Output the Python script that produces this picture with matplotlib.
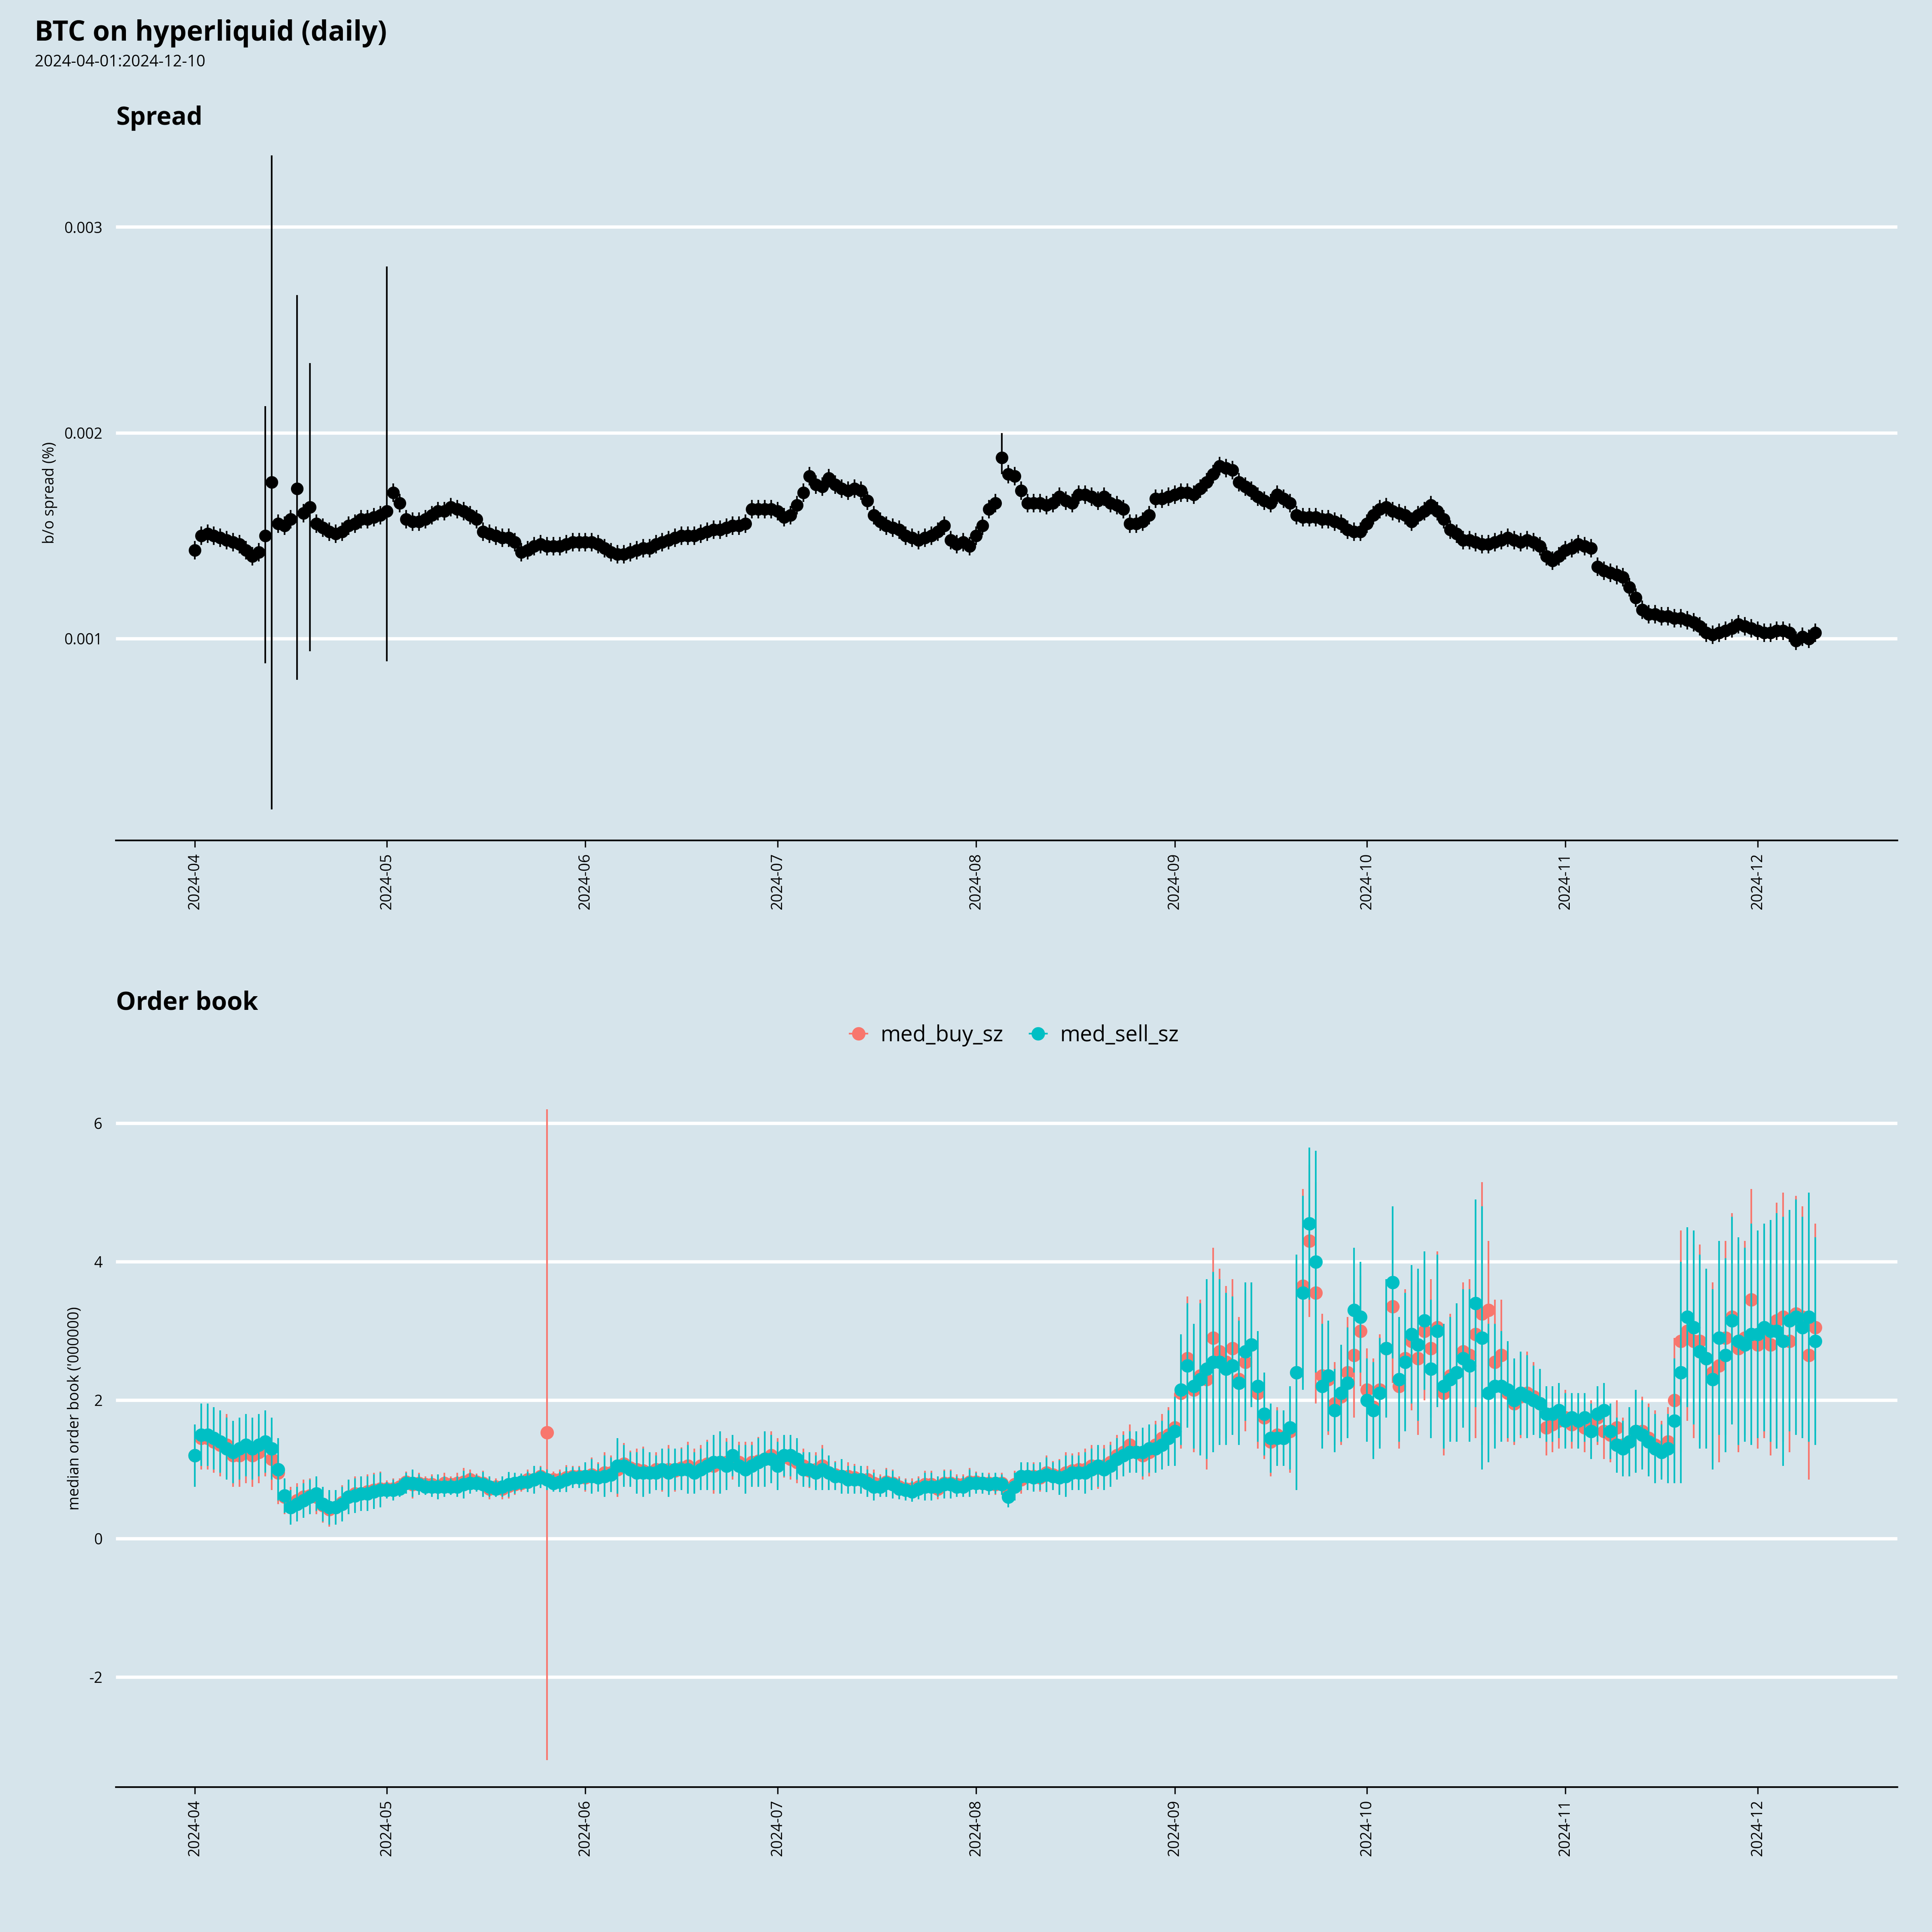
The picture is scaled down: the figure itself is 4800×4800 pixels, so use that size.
import numpy as np
import pandas as pd
import matplotlib
matplotlib.use("Agg")
import matplotlib.pyplot as plt
import matplotlib.dates as mdates
from matplotlib.lines import Line2D

plt.rcParams['font.family'] = ['Open Sans', 'DejaVu Sans']

BG = '#d6e4eb'
RED = '#f8766d'
TEAL = '#00bfc4'

dates = pd.date_range('2024-04-01', '2024-12-10', freq='D')

# b/o spread in units of 1e-3
spread = [
    # Apr
    1.43, 1.50, 1.51, 1.50, 1.49, 1.48, 1.47, 1.46, 1.43, 1.40, 1.42, 1.50, 1.76, 1.56, 1.55,
    1.58, 1.73, 1.61, 1.64, 1.56, 1.54, 1.52, 1.51, 1.52, 1.55, 1.56, 1.58, 1.58, 1.59, 1.60,
    # May
    1.62, 1.71, 1.66, 1.58, 1.57, 1.57, 1.58, 1.60, 1.62, 1.62, 1.64, 1.63, 1.62, 1.60, 1.58, 1.52,
    1.51, 1.50, 1.49, 1.49, 1.47, 1.42, 1.43, 1.45, 1.46, 1.45, 1.45, 1.45, 1.46, 1.47, 1.47,
    # Jun
    1.47, 1.47, 1.46, 1.44, 1.42, 1.41, 1.41, 1.42, 1.43, 1.44, 1.44, 1.46, 1.47, 1.48, 1.49,
    1.50, 1.50, 1.50, 1.51, 1.52, 1.53, 1.53, 1.54, 1.55, 1.55, 1.56, 1.63, 1.63, 1.63, 1.63,
    # Jul
    1.62, 1.59, 1.60, 1.65, 1.71, 1.79, 1.75, 1.74, 1.78, 1.75, 1.73, 1.72, 1.73, 1.72, 1.67, 1.60,
    1.57, 1.55, 1.54, 1.53, 1.50, 1.49, 1.48, 1.49, 1.50, 1.52, 1.55, 1.48, 1.46, 1.47, 1.45,
    # Aug
    1.50, 1.55, 1.63, 1.66, 1.88, 1.80, 1.79, 1.72, 1.66, 1.66, 1.66, 1.65, 1.66, 1.69, 1.67, 1.66,
    1.70, 1.70, 1.69, 1.67, 1.69, 1.66, 1.65, 1.63, 1.56, 1.56, 1.57, 1.60, 1.68, 1.68, 1.69,
    # Sep
    1.70, 1.71, 1.71, 1.70, 1.73, 1.76, 1.80, 1.84, 1.83, 1.82, 1.76, 1.74, 1.72, 1.69, 1.67,
    1.66, 1.70, 1.68, 1.66, 1.60, 1.59, 1.59, 1.59, 1.58, 1.58, 1.57, 1.56, 1.53, 1.52, 1.52,
    # Oct
    1.56, 1.60, 1.63, 1.64, 1.62, 1.61, 1.60, 1.57, 1.60, 1.62, 1.65, 1.62, 1.58, 1.53, 1.51, 1.48,
    1.48, 1.47, 1.46, 1.46, 1.47, 1.48, 1.49, 1.48, 1.47, 1.48, 1.47, 1.45, 1.40, 1.38, 1.40,
    # Nov
    1.43, 1.44, 1.46, 1.45, 1.44, 1.35, 1.33, 1.32, 1.31, 1.30, 1.25, 1.20, 1.14, 1.12, 1.12,
    1.11, 1.11, 1.10, 1.10, 1.09, 1.08, 1.06, 1.03, 1.02, 1.03, 1.04, 1.05, 1.07, 1.06, 1.05,
    # Dec
    1.04, 1.03, 1.03, 1.04, 1.04, 1.03, 0.99, 1.01, 1.00, 1.03,
]
# (low, high) of the unusual spread bars, units 1e-3
spread_wide = {
    '2024-04-12': (0.88, 2.13),
    '2024-04-13': (0.17, 3.35),
    '2024-04-17': (0.80, 2.67),
    '2024-04-19': (0.94, 2.34),
    '2024-05-01': (0.89, 2.81),
    '2024-08-05': (1.80, 2.00),
}
spread_err_default = 0.045

# median order book size, millions
sell_sz = [
    1.2, 1.5, 1.5, 1.45, 1.4, 1.3, 1.25, 1.3, 1.35, 1.3, 1.35, 1.4, 1.3, 1.0, 0.62, 0.45, 0.5, 0.55,
    0.6, 0.65, 0.5, 0.45, 0.45, 0.5, 0.6, 0.62, 0.65, 0.65, 0.68, 0.7,
    0.7, 0.7, 0.72, 0.8, 0.8, 0.78, 0.75, 0.75, 0.75, 0.75, 0.75, 0.75, 0.78, 0.8, 0.8, 0.78, 0.75,
    0.72, 0.75, 0.78, 0.8, 0.82, 0.82, 0.85, 0.88, 0.85, 0.8, 0.82, 0.85, 0.88, 0.88,
    0.9, 0.9, 0.88, 0.9, 0.92, 1.05, 1.05, 1.0, 0.95, 0.95, 0.95, 0.95, 1.0, 0.95, 1.0, 1.0, 1.0,
    0.95, 1.0, 1.05, 1.1, 1.1, 1.05, 1.2, 1.05, 1.0, 1.05, 1.1, 1.15, 1.15,
    1.05, 1.2, 1.2, 1.15, 1.0, 1.0, 0.95, 1.0, 0.95, 0.9, 0.9, 0.85, 0.85, 0.85, 0.8, 0.75, 0.75,
    0.8, 0.78, 0.72, 0.7, 0.68, 0.72, 0.75, 0.75, 0.75, 0.78, 0.78, 0.75, 0.75, 0.8,
    0.8, 0.8, 0.78, 0.8, 0.78, 0.6, 0.75, 0.9, 0.9, 0.88, 0.9, 0.92, 0.9, 0.88, 0.9, 0.95, 0.95,
    0.95, 1.0, 1.05, 1.0, 1.05, 1.15, 1.2, 1.25, 1.25, 1.25, 1.3, 1.3, 1.35, 1.45,
    1.55, 2.15, 2.5, 2.2, 2.3, 2.45, 2.55, 2.55, 2.45, 2.5, 2.25, 2.7, 2.8, 2.2, 1.8, 1.45, 1.45,
    1.45, 1.6, 2.4, 3.55, 4.55, 4.0, 2.2, 2.35, 1.85, 2.1, 2.25, 3.3, 3.2,
    2.0, 1.85, 2.1, 2.75, 3.7, 2.3, 2.55, 2.95, 2.8, 3.15, 2.45, 3.0, 2.2, 2.3, 2.4, 2.6, 2.5, 3.4,
    2.9, 2.1, 2.2, 2.2, 2.15, 2.0, 2.1, 2.05, 2.0, 1.95, 1.8, 1.8, 1.85,
    1.7, 1.75, 1.7, 1.75, 1.55, 1.8, 1.85, 1.55, 1.35, 1.3, 1.4, 1.55, 1.5, 1.4, 1.3, 1.25, 1.3,
    1.7, 2.4, 3.2, 3.05, 2.7, 2.6, 2.3, 2.9, 2.65, 3.15, 2.85, 2.8, 2.95,
    2.95, 3.05, 3.0, 3.0, 2.85, 3.15, 3.2, 3.05, 3.2, 2.85,
]
buy_sz = [
    1.2, 1.45, 1.45, 1.4, 1.35, 1.35, 1.2, 1.2, 1.25, 1.2, 1.25, 1.35, 1.15, 0.95, 0.6, 0.5, 0.55, 0.6,
    0.62, 0.6, 0.48, 0.42, 0.45, 0.52, 0.6, 0.65, 0.65, 0.68, 0.7, 0.72,
    0.72, 0.72, 0.75, 0.82, 0.78, 0.8, 0.78, 0.78, 0.75, 0.8, 0.78, 0.8, 0.82, 0.85, 0.82, 0.8, 0.72,
    0.75, 0.72, 0.76, 0.78, 0.8, 0.85, 0.85, 0.9, 1.53, 0.85, 0.85, 0.88, 0.9, 0.9,
    0.88, 0.92, 0.9, 0.95, 0.95, 1.0, 1.08, 1.02, 1.0, 0.98, 0.95, 1.0, 0.98, 1.0, 0.98, 1.02, 1.05,
    1.0, 1.05, 1.08, 1.05, 1.1, 1.1, 1.15, 1.1, 1.05, 1.1, 1.12, 1.15, 1.2,
    1.1, 1.18, 1.15, 1.1, 1.05, 0.98, 1.0, 1.05, 0.95, 0.92, 0.9, 0.9, 0.88, 0.85, 0.85, 0.8, 0.78,
    0.82, 0.8, 0.75, 0.72, 0.72, 0.75, 0.78, 0.78, 0.72, 0.8, 0.8, 0.78, 0.78, 0.82,
    0.82, 0.8, 0.8, 0.78, 0.8, 0.65, 0.78, 0.85, 0.9, 0.9, 0.88, 0.95, 0.92, 0.9, 0.95, 0.98, 1.0,
    1.0, 1.05, 1.02, 1.05, 1.1, 1.2, 1.25, 1.35, 1.25, 1.2, 1.25, 1.35, 1.45, 1.5,
    1.6, 2.1, 2.6, 2.15, 2.35, 2.3, 2.9, 2.7, 2.55, 2.75, 2.3, 2.55, 2.8, 2.1, 1.75, 1.4, 1.5,
    1.45, 1.55, 2.4, 3.65, 4.3, 3.55, 2.35, 2.3, 1.95, 2.05, 2.4, 2.65, 3.0,
    2.15, 1.9, 2.15, 2.75, 3.35, 2.2, 2.6, 2.85, 2.6, 3.0, 2.75, 3.05, 2.1, 2.35, 2.4, 2.7, 2.65, 2.95,
    3.25, 3.3, 2.55, 2.65, 2.1, 1.95, 2.05, 2.1, 2.05, 1.95, 1.6, 1.65, 1.7,
    1.75, 1.65, 1.7, 1.6, 1.6, 1.75, 1.55, 1.5, 1.6, 1.35, 1.4, 1.55, 1.55, 1.45, 1.35, 1.3, 1.4,
    2.0, 2.85, 3.0, 2.85, 2.85, 2.6, 2.4, 2.5, 2.9, 3.2, 2.75, 2.9, 3.45,
    2.8, 2.95, 2.8, 3.15, 3.2, 2.85, 3.25, 3.2, 2.65, 3.05,
]
# half width of the order book error bars, millions
ob_err = (
    [0.45] * 14 + [0.25] * 16
    + [0.12, 0.15, 0.12, 0.15, 0.2, 0.15, 0.12, 0.15, 0.18, 0.15, 0.12, 0.15, 0.2, 0.15, 0.12, 0.18,
       0.15, 0.12, 0.15, 0.18, 0.15, 0.12, 0.15, 0.2, 0.15, 0.15, 0.12, 0.15, 0.18, 0.15, 0.15]
    + [0.2, 0.25, 0.2, 0.3, 0.25, 0.4, 0.3, 0.25, 0.3, 0.35, 0.3, 0.25, 0.3, 0.35, 0.3, 0.3, 0.35,
       0.3, 0.3, 0.35, 0.4, 0.45, 0.35, 0.3, 0.3, 0.35, 0.3, 0.35, 0.4, 0.35]
    + [0.35, 0.3, 0.3, 0.3, 0.25, 0.25, 0.25, 0.3, 0.25, 0.2, 0.25, 0.2, 0.2, 0.2, 0.2, 0.2, 0.15,
       0.2, 0.2, 0.15, 0.15, 0.15, 0.15, 0.2, 0.2, 0.15, 0.2, 0.2, 0.15, 0.15, 0.2]
    + [0.15, 0.15, 0.15, 0.15, 0.15, 0.15, 0.2, 0.2, 0.2, 0.2, 0.2, 0.25, 0.2, 0.25, 0.3, 0.25,
       0.25, 0.3, 0.3, 0.3, 0.3, 0.3, 0.3, 0.3, 0.3, 0.3, 0.35, 0.35, 0.35, 0.35, 0.4]
    + [0.5, 0.8, 0.9, 0.9, 1.1, 1.3, 1.3, 1.2, 1.1, 1.0, 0.9, 1.0, 0.9, 0.8, 0.6, 0.5, 0.4, 0.4,
       0.6, 1.7, 1.4, 1.1, 1.6, 0.9, 0.8, 0.6, 0.7, 0.8, 0.9, 0.8]
    + [0.6, 0.7, 0.8, 1.0, 1.1, 0.9, 1.0, 1.0, 1.1, 1.0, 1.0, 1.1, 0.9, 0.9, 1.0, 1.0, 1.1, 1.5,
       1.9, 1.0, 0.9, 0.8, 0.7, 0.6, 0.6, 0.6, 0.5, 0.5, 0.4, 0.4, 0.4]
    + [0.4, 0.35, 0.4, 0.35, 0.4, 0.4, 0.4, 0.4, 0.4, 0.4, 0.5, 0.6, 0.5, 0.5, 0.5, 0.4, 0.5,
       0.9, 1.6, 1.3, 1.4, 1.4, 1.3, 1.3, 1.4, 1.4, 1.5, 1.5, 1.4, 1.6]
    + [1.5, 1.5, 1.6, 1.7, 1.8, 1.6, 1.7, 1.6, 1.8, 1.5]
)

spread = np.array(spread) * 1e-3
spread_lo = spread - spread_err_default * 1e-3
spread_hi = spread + spread_err_default * 1e-3
for d, (lo, hi) in spread_wide.items():
    i = dates.get_loc(pd.Timestamp(d))
    spread_lo[i] = lo * 1e-3
    spread_hi[i] = hi * 1e-3

sell_sz = np.array(sell_sz)
buy_sz = np.array(buy_sz)
ob_err = np.array(ob_err)
buy_lo = buy_sz - ob_err
buy_hi = buy_sz + ob_err
i_out = dates.get_loc(pd.Timestamp('2024-05-26'))
buy_lo[i_out] = -3.2
buy_hi[i_out] = 6.2


def style(ax):
    ax.set_facecolor(BG)
    for s in ['top', 'right', 'left']:
        ax.spines[s].set_visible(False)
    ax.spines['bottom'].set_color('black')
    ax.spines['bottom'].set_linewidth(1.0)
    ax.grid(axis='y', color='white', linewidth=2.0)
    ax.grid(axis='x', visible=False)
    ax.set_axisbelow(True)
    ax.tick_params(axis='y', length=0, labelsize=9, pad=8)
    ax.tick_params(axis='x', length=4, labelsize=9, labelrotation=90)
    ax.xaxis.set_major_locator(mdates.MonthLocator())
    ax.xaxis.set_major_formatter(mdates.DateFormatter('%Y-%m'))
    ax.set_xlim(dates[0] - pd.Timedelta(days=12.3), dates[0] + pd.Timedelta(days=265.8))


fig = plt.figure(figsize=(16, 16), dpi=300, facecolor=BG)
ax1 = fig.add_axes([0.06, 0.565, 0.922, 0.36])
ax2 = fig.add_axes([0.06, 0.075, 0.922, 0.392])
style(ax1)
style(ax2)

# spread panel
ax1.vlines(dates, spread_lo, spread_hi, color='black', linewidth=1.0)
ax1.plot(dates, spread, 'o', color='black', markersize=6.5)
ax1.set_ylim(0.00002, 0.0034)
ax1.set_yticks([0.001, 0.002, 0.003])
ax1.set_yticklabels(['0.001', '0.002', '0.003'])
ax1.set_ylabel('b/o spread (%)', fontsize=9)
ax1.set_title('Spread', loc='left', fontsize=15, fontweight='bold', pad=12)

# order book panel
ax2.vlines(dates, buy_lo, buy_hi, color=RED, linewidth=1.0)
ax2.plot(dates, buy_sz, 'o', color=RED, markersize=7, label='med_buy_sz')
ax2.vlines(dates, sell_sz - ob_err, sell_sz + ob_err, color=TEAL, linewidth=1.0)
ax2.plot(dates, sell_sz, 'o', color=TEAL, markersize=7, label='med_sell_sz')
ax2.set_ylim(-3.59, 7.35)
ax2.set_yticks([-2, 0, 2, 4, 6])
ax2.set_yticklabels(['-2', '0', '2', '4', '6'])
ax2.set_ylabel("median order book ('000000)", fontsize=9)
ax2.set_title('Order book', loc='left', fontsize=15, fontweight='bold', pad=12)

handles = [
    Line2D([0], [0], color=RED, marker='o', markersize=7, linestyle='-', linewidth=1.0),
    Line2D([0], [0], color=TEAL, marker='o', markersize=7, linestyle='-', linewidth=1.0),
]
fig.legend(handles, ['med_buy_sz', 'med_sell_sz'], loc='center', bbox_to_anchor=(0.525, 0.464),
           ncol=2, frameon=False, fontsize=13, handlelength=0.8, columnspacing=1.2,
           handletextpad=0.6)

fig.text(0.018, 0.99, 'BTC on hyperliquid (daily)', fontsize=16.5, fontweight='bold', va='top')
fig.text(0.018, 0.972, '2024-04-01:2024-12-10', fontsize=9.5, va='top')

fig.savefig('out.png', dpi=300, facecolor=BG)
